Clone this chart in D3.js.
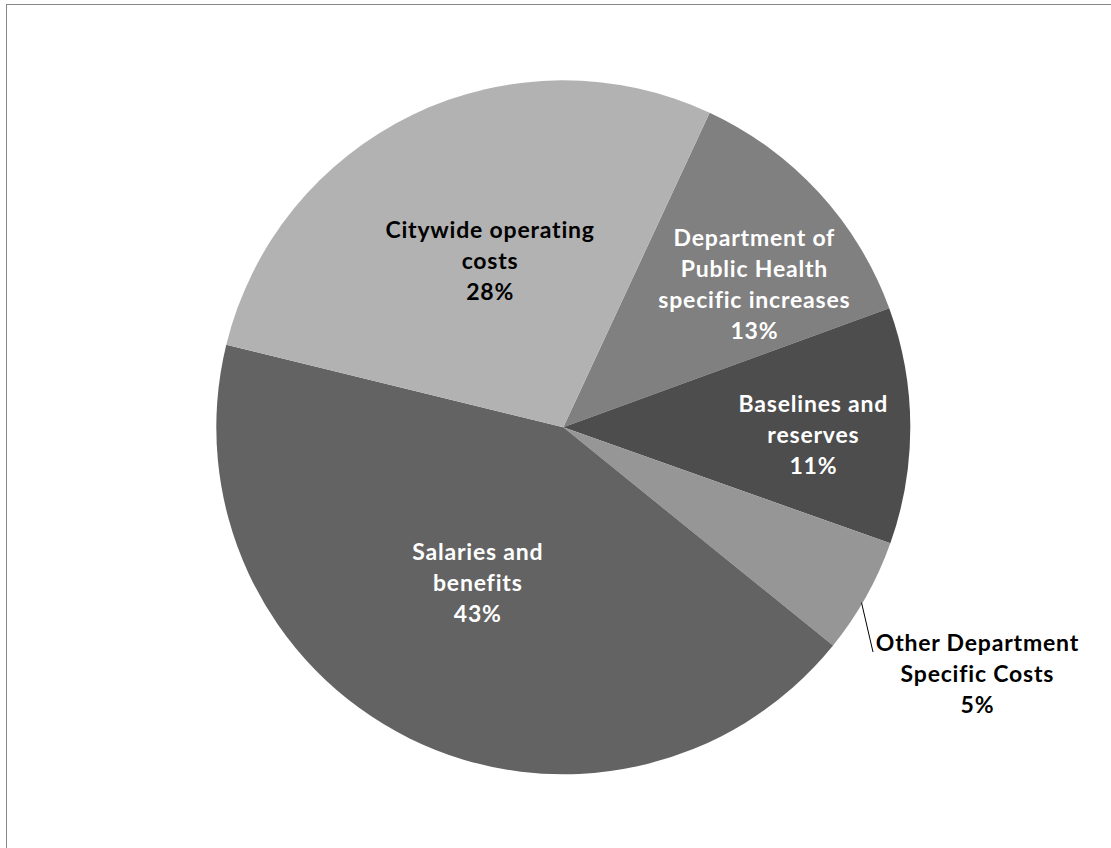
<!DOCTYPE html>
<html>
<head>
<meta charset="utf-8">
<script src="https://cdn.jsdelivr.net/npm/d3@7"></script>
<style>
  html, body { margin: 0; padding: 0; background: #ffffff; overflow: hidden; }
  svg { display: block; }
  text { font-family: Lato, "Open Sans", sans-serif; font-weight: bold; }
</style>
</head>
<body>
<svg id="chart" width="1111" height="848"></svg>
<script>
// ---- data ----
const categories = [
  "Department of Public Health specific increases",
  "Baselines and reserves",
  "Other Department Specific Costs",
  "Salaries and benefits",
  "Citywide operating costs"
];
const values = [12.5, 11.0, 5.4, 43.0, 28.1];
const percentLabels = ["13%", "11%", "5%", "43%", "28%"];
const labelLines = [
  ["Department of", "Public Health", "specific increases"],
  ["Baselines and", "reserves"],
  ["Other Department", "Specific Costs"],
  ["Salaries and", "benefits"],
  ["Citywide operating", "costs"]
];

// ---- layout / style ----
const W = 1111, H = 848;
const cx = 563.3, cy = 427.3, R = 347;
const startDeg = 24.94;
const colors = ["#808080", "#4d4d4d", "#969696", "#636363", "#b2b2b2"];
const textColors = ["#ffffff", "#ffffff", "#000000", "#ffffff", "#000000"];
// label anchor: angle offset from slice mid (deg) and radius factor (block middle baseline)
const labelAnchors = [
  { da: 7.3, rf: 0.673 },
  { da: 3.85, rf: 0.721 },
  { da: null, x: 977, y: 651 },
  { da: 1.3, rf: 0.533 },
  { da: 0.7, rf: 0.503 }
];
const lineH = 31;
const fontSize = 23;
const letterSp = 0.8;

const svg = d3.select("#chart");

// frame (partially visible)
svg.append("rect")
  .attr("x", 6.5).attr("y", 4.5)
  .attr("width", W + 20).attr("height", H + 20)
  .attr("fill", "none").attr("stroke", "#878787").attr("stroke-width", 1);

const pie = d3.pie().value(d => d).sort(null)
  .startAngle(startDeg * Math.PI / 180)
  .endAngle(startDeg * Math.PI / 180 + 2 * Math.PI);
const arcs = pie(values);
const arc = d3.arc().innerRadius(0).outerRadius(R);

const g = svg.append("g").attr("transform", `translate(${cx},${cy})`);
g.selectAll("path.slice").data(arcs).enter().append("path")
  .attr("class", "slice")
  .attr("d", arc)
  .attr("fill", (d, i) => colors[i]);

// labels
const labels = svg.append("g");
arcs.forEach((a, i) => {
  const lines = labelLines[i].concat([percentLabels[i]]);
  const la = labelAnchors[i];
  let x, yTop;
  const n = lines.length;
  if (la.da !== null) {
    const mid = (a.startAngle + a.endAngle) / 2 + la.da * Math.PI / 180;
    const r = R * la.rf;
    x = cx + r * Math.sin(mid);
    const yc = cy - r * Math.cos(mid);
    yTop = yc - (n - 1) * lineH / 2;
  } else {
    x = la.x; yTop = la.y;
  }
  const t = labels.append("text")
    .attr("text-anchor", "middle")
    .attr("font-size", fontSize)
    .attr("letter-spacing", letterSp)
    .attr("fill", textColors[i]);
  lines.forEach((s, k) => {
    t.append("tspan").attr("x", x + letterSp / 2).attr("y", yTop + k * lineH).text(s);
  });
});

// leader line for the small outside slice
(function () {
  const a = arcs[2];
  const mid = (a.startAngle + a.endAngle) / 2 + 1.2 * Math.PI / 180;
  const x1 = cx + (R - 1) * Math.sin(mid), y1 = cy - (R - 1) * Math.cos(mid);
  svg.append("line")
    .attr("x1", x1).attr("y1", y1)
    .attr("x2", 873).attr("y2", 652)
    .attr("stroke", "#000").attr("stroke-width", 1);
})();
</script>
</body>
</html>
